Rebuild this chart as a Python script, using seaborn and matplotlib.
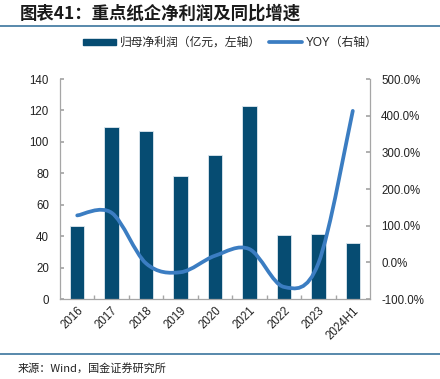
import matplotlib
matplotlib.use("Agg")
import matplotlib.pyplot as plt
import seaborn as sns
import numpy as np
import pandas as pd
from matplotlib.path import Path
from matplotlib.patches import PathPatch, Patch
from matplotlib.lines import Line2D
from matplotlib.ticker import FuncFormatter, MultipleLocator, FixedLocator

years = ["2016", "2017", "2018", "2019", "2020", "2021", "2022", "2023", "2024H1"]
profit = [46.6, 109.7, 106.7, 78.1, 91.9, 122.6, 40.5, 41.4, 35.8]
yoy = [128, 135, -3, -27, 18, 36, -67, -3, 413]

title = "图表41：重点纸企净利润及同比增速"
legend_bar = "归母净利润（亿元，左轴）"
legend_line = "YOY（右轴）"
source = "来源：Wind，国金证券研究所"

BAR = "#064c72"
LINE = "#3b7dc2"
RULE = "#4a7fa5"
GREY = "#a6a6a6"

sns.set_theme(style="white")
plt.rcParams['font.family'] = ['Liberation Sans', 'Noto Sans CJK SC', 'DejaVu Sans']

fig = plt.figure(figsize=(4.4, 3.79), dpi=100)
ax = fig.add_axes([60/440, 1-299/379, 310/440, 220/379])

df = pd.DataFrame({"year": years, "profit": profit})
sns.barplot(data=df, x="year", y="profit", color=BAR, width=0.42, ax=ax,
            edgecolor="#dfe8ef", linewidth=0.6, saturation=1)
ax.set_xlim(-0.5, len(years)-0.5)
ax.set_ylim(0, 140)
ax.yaxis.set_major_locator(MultipleLocator(20))
ax.set_xlabel("")
ax.set_ylabel("")

ax2 = ax.twinx()
ax2.set_ylim(-100, 500)
ax2.yaxis.set_major_locator(MultipleLocator(100))
ax2.yaxis.set_major_formatter(FuncFormatter(lambda v, p: f"{v:.1f}%"))

# smoothed line (Catmull-Rom Bezier through the data points)
xs = np.arange(len(yoy), dtype=float)
ys = np.array(yoy, dtype=float)
pts = np.column_stack([xs, ys])
verts = [tuple(pts[0])]
codes = [Path.MOVETO]
n = len(pts)
for i in range(n-1):
    p0 = pts[i-1] if i > 0 else pts[i]
    p1 = pts[i]
    p2 = pts[i+1]
    p3 = pts[i+2] if i+2 < n else pts[i+1]
    c1 = p1 + (p2 - p0) / 6.0
    c2 = p2 - (p3 - p1) / 6.0
    verts += [tuple(c1), tuple(c2), tuple(p2)]
    codes += [Path.CURVE4]*3
patch = PathPatch(Path(verts, codes), facecolor="none", edgecolor=LINE, lw=2.7,
                  transform=ax2.transData, capstyle="round", joinstyle="round")
ax2.add_patch(patch)

for a in (ax, ax2):
    for s in a.spines.values():
        s.set_visible(False)
ax.spines["left"].set_visible(True)
ax.spines["left"].set_color(GREY)
ax.spines["bottom"].set_visible(True)
ax.spines["bottom"].set_color(GREY)
ax2.spines["right"].set_visible(True)
ax2.spines["right"].set_color(GREY)
for a in (ax, ax2):
    for s in a.spines.values():
        s.set_linewidth(0.9)

ax.tick_params(axis="y", direction="in", length=3, color=GREY, labelsize=8.3,
               labelcolor="#222222", pad=8, left=True)
ax2.tick_params(axis="y", direction="in", length=3, color=GREY, labelsize=8.3,
                labelcolor="#222222", pad=8, right=True)
ax.xaxis.set_minor_locator(FixedLocator(np.arange(0.5, len(years)-1, 1.0)))
ax.tick_params(axis="x", which="major", length=0, labelsize=8.3, labelcolor="#222222", pad=4)
ax.tick_params(axis="x", which="minor", direction="in", length=3, color=GREY, bottom=True)
for lab in ax.get_xticklabels():
    lab.set_rotation(45)
    lab.set_ha("right")
    lab.set_rotation_mode("anchor")

# title, rules, legend, source
fig.text(20/440, 1-14/379, title, fontsize=12.5, fontweight="bold", style="italic",
         color="#1a1a1a", va="center", ha="left",
         family=['Noto Sans CJK SC', 'DejaVu Sans'])
fig.add_artist(Line2D([0, 1], [1-25.5/379, 1-25.5/379], color=RULE, lw=1.3,
                      transform=fig.transFigure))
fig.add_artist(Line2D([0, 1], [1-354/379, 1-354/379], color=RULE, lw=1.3,
                      transform=fig.transFigure))
handles = [Patch(facecolor=BAR, edgecolor=BAR), Line2D([0], [0], color=LINE, lw=2.7)]
fig.legend(handles, [legend_bar, legend_line], loc="center", bbox_to_anchor=(230/440, 1-43/379),
           ncol=2, frameon=False, handlelength=2.8, handleheight=0.45,
           columnspacing=0.7, handletextpad=0.3,
           prop={'family': ['Liberation Sans', 'Noto Sans CJK SC'], 'size': 8.5})
fig.text(18/440, 1-368/379, source, fontsize=8, color="#222222", va="center", ha="left",
         family=['Noto Sans CJK SC', 'DejaVu Sans'])

fig.savefig("out.png", dpi=100)
